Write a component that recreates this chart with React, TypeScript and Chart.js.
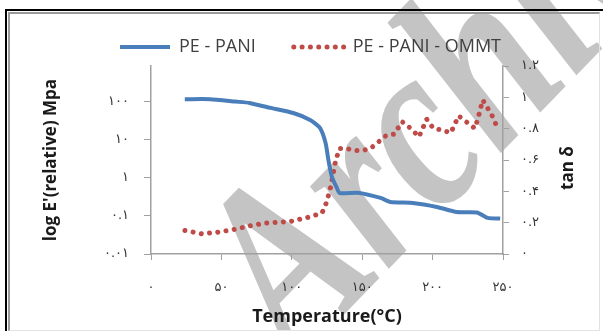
import React, { useEffect, useRef } from 'react';
import { Chart, registerables } from 'chart.js';

Chart.register(...registerables);

// ---- data ----
const xTicks = [0, 50, 100, 150, 200, 250];
const leftTicks = [0.01, 0.1, 1, 10, 100];
const rightTicks = [0, 0.2, 0.4, 0.6, 0.8, 1, 1.2];

const panLabel = 'PE - PANI';
const panTemp = [24, 42, 60, 70, 85, 101, 113, 120, 124, 126, 128.5, 132, 134, 148, 163, 170, 186, 203, 217, 231.5, 239, 248];
const panModulus = [118, 118, 102, 94, 69.5, 51, 33.6, 20.7, 8.3, 2.97, 1.06, 0.546, 0.403, 0.403, 0.298, 0.234, 0.22, 0.173, 0.127, 0.124, 0.089, 0.086];

const ommtLabel = 'PE - PANI - OMMT';
const ommtTemp = [24.1, 36.0, 46.9, 59.2, 70.8, 82.2, 99.2, 110.6, 121.4, 124.8, 127.6, 130.9, 133.7, 139.0, 144.4, 150.1, 155.5, 161.4, 167.4, 172.8, 178.3, 184.4, 190.3, 195.8, 200.5, 206.9, 212.9, 218.5, 224.2, 230.1, 232.5, 235.6, 239.6, 241.5, 245];
const ommtTanDelta = [0.150, 0.129, 0.138, 0.157, 0.181, 0.198, 0.208, 0.232, 0.261, 0.332, 0.428, 0.584, 0.673, 0.673, 0.661, 0.661, 0.671, 0.714, 0.759, 0.765, 0.845, 0.802, 0.748, 0.861, 0.802, 0.791, 0.773, 0.882, 0.842, 0.802, 0.876, 0.983, 0.923, 0.898, 0.827];

const xTitle = 'Temperature(°C)';
const leftTitle = "log E'(relative) Mpa";
const rightTitleText = 'tan δ';
const watermarkText = 'Archive of SID';

const fa = (v: number) => String(v).replace(/\d/g, (d) => '۰۱۲۳۴۵۶۷۸۹'[Number(d)]);

const watermarkPlugin = {
  id: 'watermark',
  beforeDraw(chart: any) {
    const ctx = chart.ctx;
    ctx.save();
    ctx.translate(296, 364);
    ctx.rotate(-0.8);
    ctx.scale(0.78, 1);
    ctx.font = 'italic bold 248px "Liberation Serif"';
    ctx.fillStyle = '#c4c4c4';
    ctx.textBaseline = 'alphabetic';
    ctx.fillText(watermarkText, 0, 0);
    ctx.restore();
  },
};

const rightTitlePlugin = {
  id: 'rightTitle',
  afterDraw(chart: any) {
    const s = chart.scales.y1;
    const ctx = chart.ctx;
    ctx.save();
    ctx.translate(s.right - 35, (chart.chartArea.top + chart.chartArea.bottom) / 2 + 8);
    ctx.rotate(-Math.PI / 2);
    ctx.font = 'bold 17px "Open Sans"';
    ctx.fillStyle = '#1a1a1a';
    ctx.textAlign = 'center';
    ctx.textBaseline = 'middle';
    ctx.fillText(rightTitleText, 0, 0);
    ctx.restore();
  },
};

const axisGray = '#a0a0a0';
const tickFont = { family: '"DejaVu Sans"', size: 13 };
const tickColor = '#333333';

export default function App() {
  const ref = useRef<HTMLCanvasElement>(null);

  useEffect(() => {
    if (!ref.current) return;
    const chart = new Chart(ref.current, {
      type: 'line',
      data: {
        datasets: [
          {
            label: panLabel,
            data: panTemp.map((x, i) => ({ x, y: panModulus[i] })),
            yAxisID: 'y',
            borderColor: '#4a7ebb',
            backgroundColor: '#4a7ebb',
            borderWidth: 4,
            pointRadius: 0,
            pointStyle: 'line',
            tension: 0.2,
            fill: false,
          },
          {
            label: ommtLabel,
            data: ommtTemp.map((x, i) => ({ x, y: ommtTanDelta[i] })),
            yAxisID: 'y1',
            borderColor: '#be4b48',
            backgroundColor: '#be4b48',
            borderWidth: 5,
            borderDash: [0.01, 8.3],
            borderCapStyle: 'round',
            pointRadius: 0,
            pointStyle: 'line',
            tension: 0,
            fill: false,
          },
        ],
      },
      options: {
        animation: false,
        responsive: false,
        devicePixelRatio: 1,
        layout: { padding: { left: 18, top: 0, right: 0, bottom: 0 } },
        plugins: {
          tooltip: { enabled: false },
          legend: {
            display: true,
            position: 'top',
            labels: {
              usePointStyle: true,
              pointStyleWidth: 50,
              padding: 38,
              color: '#404040',
              font: { family: '"Open Sans"', size: 18 },
              generateLabels: (c: any) =>
                c.data.datasets.map((ds: any, i: number) => ({
                  text: ds.label,
                  fillStyle: ds.borderColor,
                  strokeStyle: ds.borderColor,
                  lineWidth: ds.borderWidth,
                  lineDash: ds.borderDash || [],
                  lineCap: ds.borderCapStyle || 'butt',
                  pointStyle: 'line',
                  fontColor: '#404040',
                  hidden: false,
                  datasetIndex: i,
                })),
            },
          },
        },
        scales: {
          x: {
            type: 'linear',
            position: 'bottom',
            min: 0,
            max: 250,
            afterBuildTicks: (s: any) => {
              s.ticks = xTicks.map((v) => ({ value: v }));
            },
            afterFit: (s: any) => {
              s.height = 77;
            },
            ticks: {
              callback: (v: any) => fa(Number(v)),
              color: tickColor,
              font: tickFont,
              padding: 20,
              maxRotation: 0,
            },
            grid: { display: true, drawOnChartArea: false, drawTicks: true, tickLength: 6, color: axisGray },
            border: { display: true, color: axisGray, width: 1.5 },
            title: {
              display: true,
              text: xTitle,
              color: '#1a1a1a',
              font: { family: '"Open Sans"', size: 18, weight: 'bold' },
              padding: { top: 0, bottom: 3 },
            },
          },
          y: {
            type: 'logarithmic',
            position: 'left',
            min: 0.01,
            max: 880,
            afterBuildTicks: (s: any) => {
              s.ticks = leftTicks.map((v) => ({ value: v }));
            },
            afterFit: (s: any) => {
              s.width = 133;
            },
            ticks: {
              callback: (v: any) => fa(Number(v)),
              color: tickColor,
              font: tickFont,
              padding: 15,
            },
            grid: { display: true, drawOnChartArea: false, drawTicks: true, tickLength: 7, color: axisGray },
            border: { display: true, color: axisGray, width: 1.5 },
            title: {
              display: true,
              text: leftTitle,
              color: '#1a1a1a',
              font: { family: '"Open Sans"', size: 17, weight: 'bold' },
              padding: { top: 23, bottom: 0 },
            },
          },
          y1: {
            type: 'linear',
            position: 'right',
            min: 0,
            max: 1.2,
            afterBuildTicks: (s: any) => {
              s.ticks = rightTicks.map((v) => ({ value: v }));
            },
            afterFit: (s: any) => {
              s.width = 100;
            },
            ticks: {
              callback: (v: any) => fa(Number(v)),
              color: tickColor,
              font: tickFont,
              padding: 12,
            },
            grid: { display: true, drawOnChartArea: false, drawTicks: true, tickLength: 6, color: axisGray },
            border: { display: true, color: axisGray, width: 1.5 },
            title: { display: false },
          },
        },
      },
      plugins: [watermarkPlugin, rightTitlePlugin],
    } as any);
    return () => chart.destroy();
  }, []);

  return (
    <div style={{ position: 'fixed', left: 0, top: 0, width: 603, height: 331, background: '#fff', overflow: 'hidden' }}>
      <canvas ref={ref} width={603} height={331} style={{ position: 'absolute', left: 0, top: 0, display: 'block' }} />
      <div style={{ position: 'absolute', left: 5, top: 9, width: 600, height: 330, borderTop: '2px solid #000', borderLeft: '2px solid #000', boxSizing: 'border-box', pointerEvents: 'none' }} />
      <div style={{ position: 'absolute', left: 8, top: 12, width: 592, height: 319, borderTop: '2px solid #9a9a9a', borderLeft: '2px solid #9a9a9a', borderRight: '1px solid #e2e2e2', borderBottom: '1px solid #e2e2e2', boxSizing: 'border-box', pointerEvents: 'none' }} />
    </div>
  );
}
